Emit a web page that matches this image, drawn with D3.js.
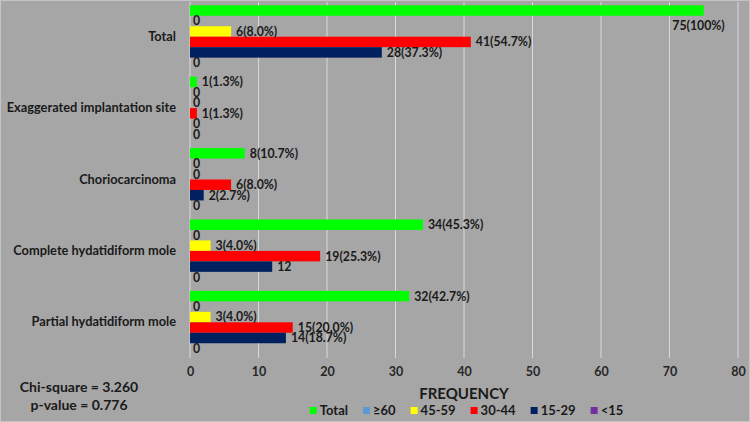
<!DOCTYPE html>
<html>
<head>
<meta charset="utf-8">
<script src="https://cdn.jsdelivr.net/npm/d3@7"></script>
<style>
  body { margin: 0; background: #a6a6a6; }
  svg { display: block; font-family: Lato, 'Open Sans', sans-serif; font-weight: bold; }
</style>
</head>
<body>
<div id="chart"></div>
<script>
var categories = ['Total', 'Exaggerated implantation site', 'Choriocarcinoma', 'Complete hydatidiform mole', 'Partial hydatidiform mole'];
var series = ['Total', '≥60', '45-59', '30-44', '15-29', '<15'];
var colors = ['#00ff00', '#5b9bd5', '#ffff00', '#ff0000', '#002060', '#7030a0'];

// values per category, in series order
var total_vals = [75, 1, 8, 34, 32];
var over60_vals = [0, 0, 0, 0, 0];
var age45_vals = [6, 0, 0, 3, 3];
var age30_vals = [41, 1, 6, 19, 15];
var age15_vals = [28, 0, 2, 12, 14];
var under15_vals = [0, 0, 0, 0, 0];

var total_labels = ['75(100%)', '1(1.3%)', '8(10.7%)', '34(45.3%)', '32(42.7%)'];
var over60_labels = ['0', '0', '0', '0', '0'];
var age45_labels = ['6(8.0%)', '0', '0', '3(4.0%)', '3(4.0%)'];
var age30_labels = ['41(54.7%)', '1(1.3%)', '6(8.0%)', '19(25.3%)', '15(20.0%)'];
var age15_labels = ['28(37.3%)', '0', '2(2.7%)', '12', '14(18.7%)'];
var under15_labels = ['0', '0', '0', '0', '0'];

var x_ticks = [0, 10, 20, 30, 40, 50, 60, 70, 80];

var all_vals = [total_vals, over60_vals, age45_vals, age30_vals, age15_vals, under15_vals];
var all_labels = [total_labels, over60_labels, age45_labels, age30_labels, age15_labels, under15_labels];

var data = [];
categories.forEach(function(c, i) {
    series.forEach(function(s, j) {
        data.push({ cat: c, series: s, idx: j, value: all_vals[j][i], label: all_labels[j][i] });
    });
});

var chart_width = 750;
var chart_height = 422;

var svg = d3.select('#chart')
    .append('svg')
    .attr('width', chart_width)
    .attr('height', chart_height)

svg.append('rect')
    .attr('x', 0.5).attr('y', 0.5)
    .attr('width', chart_width - 1).attr('height', chart_height - 1)
    .attr('fill', '#a6a6a6')
    .attr('stroke', '#c4c4c4')

var plot_left = 190, plot_right = 738, plot_top = 1, plot_bottom = 358;

var x_scale = d3.scaleLinear()
    .domain([0, 80])
    .range([plot_left, plot_right])

var y_scale = d3.scaleBand()
    .domain(categories)
    .range([plot_top, plot_bottom])
    .paddingInner(0.12)
    .paddingOuter(0.06)

var y_inner = d3.scaleBand()
    .domain(series)
    .range([0, y_scale.bandwidth()])

// gridlines
svg.selectAll('line.grid')
    .data(x_ticks)
    .enter()
    .append('line')
    .attr('class', 'grid')
    .attr('x1', function(d) { return x_scale(d) })
    .attr('x2', function(d) { return x_scale(d) })
    .attr('y1', 2)
    .attr('y2', plot_bottom)
    .attr('stroke', '#d9d9d9')
    .attr('stroke-width', 1)

// x axis tick labels
var x_axis = d3.axisBottom(x_scale).tickValues(x_ticks).tickSize(0).tickPadding(0);
var gx = svg.append('g')
    .attr('transform', 'translate(0,' + (plot_bottom + 9) + ')')
    .call(x_axis)
gx.select('.domain').remove()
gx.selectAll('text')
    .attr('fill', '#262626')
    .style('font-size', '12.5px')
    .style('font-family', 'Lato, sans-serif')
    .style('font-weight', 'bold')

// category labels
var y_axis = d3.axisLeft(y_scale).tickSize(0).tickPadding(14);
var gy = svg.append('g')
    .attr('transform', 'translate(' + plot_left + ',0)')
    .call(y_axis)
gy.select('.domain').remove()
gy.selectAll('text')
    .attr('fill', '#1a1a1a')
    .style('font-size', '12.8px')
    .style('font-family', 'Lato, sans-serif')
    .style('font-weight', 'bold')

// bars
svg.selectAll('rect.bar')
    .data(data)
    .enter()
    .append('rect')
    .attr('class', 'bar')
    .attr('x', x_scale(0))
    .attr('y', function(d) { return y_scale(d.cat) + y_inner(d.series) })
    .attr('width', function(d) { return x_scale(d.value) - x_scale(0) })
    .attr('height', y_inner.bandwidth())
    .attr('fill', function(d) { return colors[d.idx] })

// value labels
svg.selectAll('text.lbl')
    .data(data)
    .enter()
    .append('text')
    .attr('class', 'lbl')
    .text(function(d) { return d.label })
    .attr('x', function(d) { return x_scale(d.value) + (d.value > 0 ? 5 : 3) })
    .attr('y', function(d) { return y_scale(d.cat) + y_inner(d.series) + y_inner.bandwidth() / 2 })
    .attr('dy', '0.36em')
    .attr('fill', '#1a1a1a')
    .style('font-size', '12.3px')
    .each(function(d) {
        var w = this.getComputedTextLength();
        if (x_scale(d.value) + 5 + w > plot_right) {
            d3.select(this)
                .attr('text-anchor', 'end')
                .attr('x', x_scale(d.value) + 21)
                .attr('y', y_scale(d.cat) + y_inner(d.series) + y_inner.bandwidth() * 1.9)
        }
    })

// axis title
svg.append('text')
    .text('FREQUENCY')
    .attr('x', 464)
    .attr('y', 399)
    .attr('text-anchor', 'middle')
    .attr('fill', '#1a1a1a')
    .style('font-size', '15px')

// stats
svg.append('text')
    .text('Chi-square = 3.260')
    .attr('x', 79).attr('y', 392)
    .attr('text-anchor', 'middle')
    .attr('fill', '#1a1a1a')
    .style('font-size', '14px')
svg.append('text')
    .text('p-value = 0.776')
    .attr('x', 79).attr('y', 410)
    .attr('text-anchor', 'middle')
    .attr('fill', '#1a1a1a')
    .style('font-size', '14px')

// legend
var legend = svg.append('g')
var lx = 0;
series.forEach(function(s, i) {
    var g = legend.append('g').attr('transform', 'translate(' + lx + ',0)')
    g.append('rect')
        .attr('x', 0).attr('y', -8)
        .attr('width', 7).attr('height', 7)
        .attr('fill', colors[i])
    var t = g.append('text')
        .text(s)
        .attr('x', 10).attr('y', 0)
        .attr('fill', '#1a1a1a')
        .style('font-size', '13px')
    lx += 10 + t.node().getComputedTextLength() + 15;
})
var lw = lx - 15;
legend.attr('transform', 'translate(' + (466.5 - lw / 2) + ',415)')
</script>
</body>
</html>
